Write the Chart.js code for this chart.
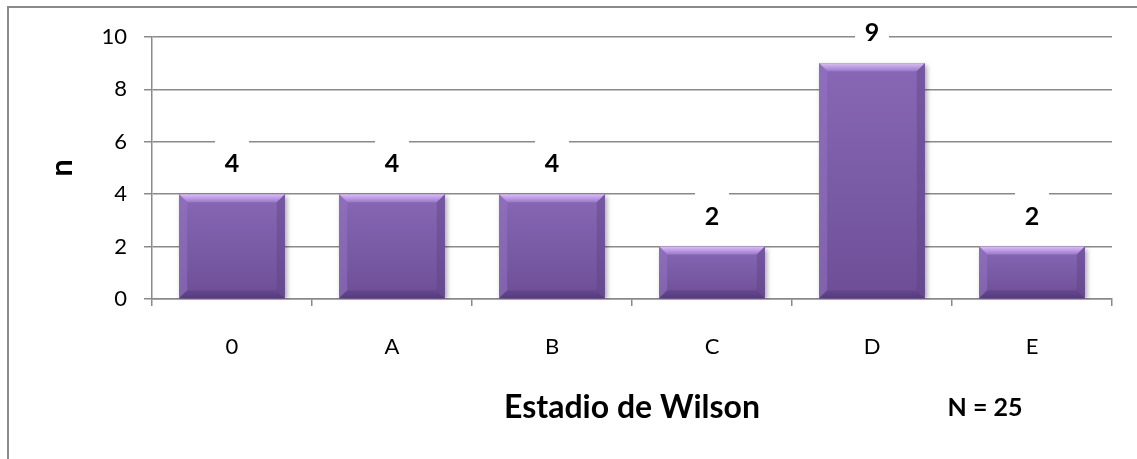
<!DOCTYPE html>
<html>
<head>
<meta charset="utf-8">
<title>Estadio de Wilson</title>
<script src="https://cdn.jsdelivr.net/npm/chart.js@4.4.0/dist/chart.umd.min.js"></script>
<style>
  html, body { margin: 0; padding: 0; background: #fff; }
  #wrap { position: relative; width: 1137px; height: 459px; overflow: hidden; }
  #wrap canvas { position: absolute; left: 0; top: 0; }
  /* outer frame: only the left and top edges are visible */
  #frame {
    position: absolute; left: 7px; top: 6px; right: -10px; bottom: -10px;
    border-left: 2px solid #8a8a8a; border-top: 2px solid #8a8a8a;
    pointer-events: none;
  }
</style>
</head>
<body>
<div id="wrap">
  <canvas id="chart" width="1137" height="459"></canvas>
  <div id="frame"></div>
</div>
<script>
// data
const stages = ['0', 'A', 'B', 'C', 'D', 'E'];
const counts = [4, 4, 4, 2, 9, 2];
const yTicks = [0, 2, 4, 6, 8, 10];
const xTitle = 'Estadio de Wilson';
const yTitle = 'n';

const FONT = 'Lato, "Open Sans", sans-serif';
const GRID = '#8a8a8a';

// shadow under the bars, then bevelled faces painted over each bar
const bevelBars = {
    id: 'bevelBars',
    beforeDatasetsDraw(chart) {
        const ctx = chart.ctx;
        ctx.save();
        ctx.shadowColor = 'rgba(0, 0, 0, 0.35)';
        ctx.shadowBlur = 5;
        ctx.shadowOffsetX = 2;
        ctx.shadowOffsetY = 2;
    },
    afterDatasetsDraw(chart) {
        const ctx = chart.ctx;
        ctx.restore();
        chart.getDatasetMeta(0).data.forEach(bar => {
            const l = bar.x - bar.width / 2;
            const r = bar.x + bar.width / 2;
            const t = bar.y;
            const b = bar.base;
            const d = Math.min(8, (b - t) / 3);

            const body = ctx.createLinearGradient(0, t, 0, b);
            body.addColorStop(0, '#8868b6');
            body.addColorStop(1, '#6d4e96');
            ctx.fillStyle = body;
            ctx.fillRect(l, t, r - l, b - t);

            const face = (pts, fill) => {
                ctx.beginPath();
                ctx.moveTo(pts[0][0], pts[0][1]);
                pts.slice(1).forEach(p => ctx.lineTo(p[0], p[1]));
                ctx.closePath();
                ctx.fillStyle = fill;
                ctx.fill();
            };

            const top = ctx.createLinearGradient(0, t, 0, t + d);
            top.addColorStop(0, '#dcbcfb');
            top.addColorStop(1, '#9a79cb');
            face([[l, t], [r, t], [r - d, t + d], [l + d, t + d]], top);
            face([[l, t], [l + d, t + d], [l + d, b - d], [l, b]], 'rgba(150, 118, 196, 0.5)');
            face([[r, t], [r - d, t + d], [r - d, b - d], [r, b]], 'rgba(90, 64, 130, 0.4)');
            const bottom = ctx.createLinearGradient(0, b - d, 0, b);
            bottom.addColorStop(0, '#644890');
            bottom.addColorStop(1, '#553b7a');
            face([[l, b], [r, b], [r - d, b - d], [l + d, b - d]], bottom);
        });
    }
};

// value labels on a white box above every bar
const valueLabels = {
    id: 'valueLabels',
    afterDatasetsDraw(chart) {
        const ctx = chart.ctx;
        ctx.save();
        ctx.font = 'bold 25px ' + FONT;
        ctx.textAlign = 'center';
        ctx.textBaseline = 'middle';
        chart.getDatasetMeta(0).data.forEach((bar, i) => {
            const cy = bar.y - 30;
            ctx.fillStyle = '#fff';
            ctx.fillRect(bar.x - 17, cy - 24, 34, 48);
            ctx.fillStyle = '#000';
            ctx.fillText(String(counts[i]), bar.x, cy);
        });
        ctx.restore();
    }
};

// sample size note in the lower right
const sampleNote = {
    id: 'sampleNote',
    afterDraw(chart) {
        const ctx = chart.ctx;
        const total = counts.reduce((a, b) => a + b, 0);
        ctx.save();
        ctx.font = 'bold 25px ' + FONT;
        ctx.fillStyle = '#000';
        ctx.textAlign = 'center';
        ctx.textBaseline = 'middle';
        ctx.fillText('N = ' + total, 985, 408);
        ctx.restore();
    }
};

new Chart(document.getElementById('chart'), {
    type: 'bar',
    data: {
        labels: stages,
        datasets: [{
            data: counts,
            backgroundColor: '#7a5ba6',
            borderWidth: 0,
            categoryPercentage: 1,
            barPercentage: 0.66
        }]
    },
    options: {
        responsive: false,
        animation: false,
        devicePixelRatio: 1,
        layout: { padding: { left: 41, top: 37, right: 25, bottom: 0 } },
        plugins: {
            legend: { display: false },
            tooltip: { enabled: false }
        },
        scales: {
            x: {
                grid: {
                    display: true,
                    offset: true,
                    drawOnChartArea: false,
                    drawTicks: true,
                    tickLength: 7,
                    color: GRID,
                    lineWidth: 1.5
                },
                border: { display: true, color: GRID, width: 1.5 },
                ticks: {
                    color: '#000',
                    padding: 28,
                    font: { family: FONT, size: 22 }
                },
                title: {
                    display: true,
                    text: xTitle,
                    color: '#000',
                    padding: { top: 0, bottom: 32 },
                    font: { family: FONT, size: 32, weight: 'bold' }
                },
                afterFit(scale) { scale.height = 160; }
            },
            y: {
                min: 0,
                max: 10,
                afterBuildTicks(scale) { scale.ticks = yTicks.map(v => ({ value: v })); },
                grid: {
                    color: GRID,
                    lineWidth: 1.5,
                    drawTicks: true,
                    tickLength: 8
                },
                border: { display: true, color: GRID, width: 1.5 },
                ticks: {
                    color: '#000',
                    padding: 17,
                    font: { family: FONT, size: 22 }
                },
                title: {
                    display: true,
                    text: yTitle,
                    color: '#000',
                    padding: { top: 2, bottom: 0 },
                    font: { family: FONT, size: 31, weight: 'bold' }
                },
                afterFit(scale) { scale.width = 111; }
            }
        }
    },
    plugins: [bevelBars, valueLabels, sampleNote]
});
</script>
</body>
</html>
